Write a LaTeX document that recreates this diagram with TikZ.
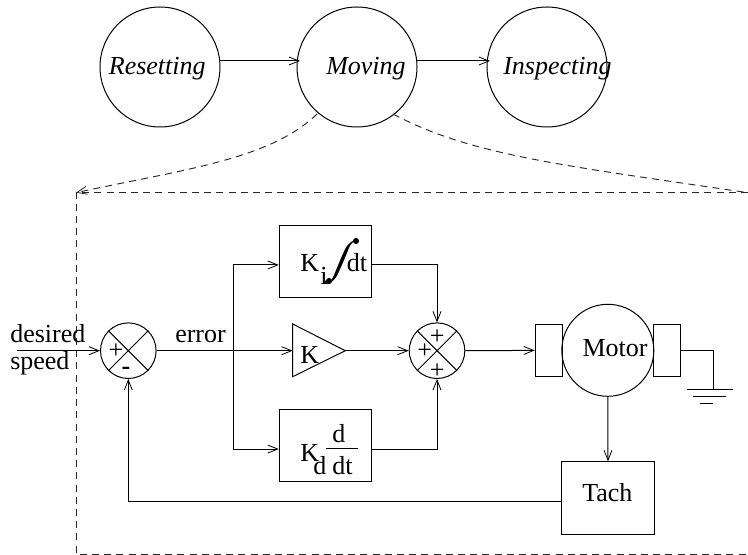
\documentclass[tikz,border=0pt]{standalone}
\usepackage{fontspec}
\setmainfont{Liberation Serif}
\usetikzlibrary{arrows.meta}
\newcommand{\px}[1]{#1*0.75pt}
\newcommand{\txt}{\fontsize{19.5pt}{22pt}\selectfont}
\tikzset{
  wire/.style={line width=0.75pt,black},
  flow/.style={wire,-{Straight Barb[length=7.5pt,width=6pt,line width=0.6pt]}},
  dashwire/.style={line width=0.7pt,dash pattern=on 5.25pt off 3.9pt,black!85},
  state/.style={circle,draw,line width=0.75pt,minimum size=\px{120},inner sep=0pt},
  summer/.style={circle,draw,line width=0.75pt,minimum size=\px{55.6},inner sep=0pt},
  block/.style={rectangle,draw,line width=0.75pt,minimum width=\px{92.4},minimum height=\px{72.4},inner sep=0pt},
  brush/.style={rectangle,draw,line width=0.75pt,minimum width=\px{27},minimum height=\px{52.7},inner sep=0pt},
  lbl/.style={anchor=base west,inner sep=0pt,font=\txt},
  lblc/.style={anchor=base,inner sep=0pt,font=\txt},
}
\begin{document}
\begin{tikzpicture}[x=0.75pt,y=-0.75pt]
\useasboundingbox (0,0) rectangle (748,555);
% state row
\node[state] (reset) at (160,67) {};
\node[state] (moving) at (357,67) {};
\node[state] (inspect) at (547,67) {};
\node[lbl] (tr) at (108.6,75) {\itshape Resetting};
\node[lbl] (tm) at (326,75) {\itshape Moving};
\node[lbl] (ti) at (503,75) {\itshape Inspecting};
\coordinate (r1) at (220,61); \coordinate (m1) at (300,61);
\coordinate (m2) at (417,61); \coordinate (i1) at (490,61);
\draw[flow] (r1) -- (m1);
\draw[flow] (m2) -- (i1);
% dashed frame
\coordinate (fa) at (748,192.7);
\coordinate (fb) at (76,192.7);
\coordinate (fc) at (76,554);
\coordinate (fd) at (748,554);
\draw[dashwire] (fa) -- (fb) -- (fc) -- (fd);
\coordinate (dl) at (317,114);
\coordinate (dr) at (393,114);
\draw[dashwire,-{Straight Barb[length=7.5pt,width=6pt,line width=0.6pt]}] (dl) .. controls (270,160) and (180,170) .. (fb);
\draw[dashwire] (dr) .. controls (470,155) and (560,165) .. (fa);
% summers
\node[summer] (s1) at (128.3,350.7) {};
\node[summer] (s2) at (437,350.7) {};
\draw[wire] (s1.north west) -- (s1.south east) (s1.north east) -- (s1.south west);
\draw[wire] (s2.north west) -- (s2.south east) (s2.north east) -- (s2.south west);
\node[inner sep=0pt,font=\txt] (p1) at (116,351) {+};
\node[inner sep=0pt,font=\txt\bfseries] (n1) at (126,371) {-};
\node[inner sep=0pt,font=\txt] (p2) at (437.3,337) {+};
\node[inner sep=0pt,font=\txt] (p3) at (424.7,351) {+};
\node[inner sep=0pt,font=\txt] (p4) at (437.3,371) {+};
% input
\coordinate (in) at (17,350.7);
\draw[flow] (in) -- (s1.west);
\node[lbl] (t1) at (10,343) {desired};
\node[lbl] (t2) at (10,369) {speed};
\node[lbl] (t3) at (175,343) {error};
% blocks
\node[block] (ki) at (325.5,261.5) {};
\node[block] (kd) at (325.5,445.6) {};
\node[block] (tach) at (608,498) {};
\node[lbl] (kik) at (300,271.7) {K};
\node[lbl] (kii) at (320,285) {i};
\node[inner sep=0pt,xslant=0.42,transform shape,font=\fontsize{34pt}{36pt}\selectfont] (kis) at (342,262) {∫};
\coordinate (ib) at (329,281); \coordinate (it) at (356,241);
\fill (ib) circle (2.3pt);
\fill (it) circle (2.3pt);
\node[lbl] (kidt) at (346.7,271.7) {dt};
\node[lbl] (kdk) at (300,461.7) {K};
\node[lbl] (kdd) at (313,474.3) {d};
\node[lbl] (kdn) at (332,442) {d};
\node[lbl] (kdb) at (332,474.3) {dt};
\coordinate (fl) at (325.5,448.5); \coordinate (fr) at (358.3,448.5);
\draw[wire] (fl) -- (fr);
% gain
\coordinate (ga) at (292.7,324); \coordinate (gb) at (345.3,350.7); \coordinate (gc) at (292.7,376.7);
\coordinate (gi) at (292.7,350.7);
\draw[wire] (ga) -- (gb) -- (gc) -- cycle;
\node[lbl] (gk) at (300,363) {K};
% branch
\coordinate (br) at (233.3,350.7);
\draw[wire] (s1.east) -- (br);
\draw[flow] (br) -- (gi);
\draw[flow] (gb) -- (s2.west);
\draw[flow] (br) |- ([yshift=-2.6pt]ki.west);
\draw[flow] (br) |- ([yshift=-2.6pt]kd.west);
\draw[flow] ([yshift=-2.6pt]ki.east) -| (s2.north);
\draw[flow] ([yshift=-2.6pt]kd.east) -| (s2.south);
% motor
\node[brush] (bl) at (548.8,350.4) {};
\node[brush] (brr) at (667.2,350.4) {};
\node[circle,draw,line width=0.75pt,minimum size=\px{92},inner sep=0pt] (mot) at (607.8,350.3) {};
\node[lbl] (tmot) at (582.3,356.7) {Motor};
\draw[flow] (s2.east) -- (bl.west);
\draw[flow] (mot.south) -- (tach.north);
\node[lbl] (ttach) at (582,501.7) {Tach};
\draw[flow] ([yshift=-2.5pt]tach.west) -| (s1.south);
% ground
\coordinate (g0) at (713,389.7);
\coordinate (g1) at (687,389.7); \coordinate (g2) at (732.7,389.7);
\coordinate (g3) at (693.3,396.3); \coordinate (g4) at (726,396.3);
\coordinate (g5) at (700,403); \coordinate (g6) at (713.3,403);
\draw[wire] (brr.east) -| (g0);
\draw[wire] (g1) -- (g2) (g3) -- (g4) (g5) -- (g6);
\end{tikzpicture}
\end{document}
